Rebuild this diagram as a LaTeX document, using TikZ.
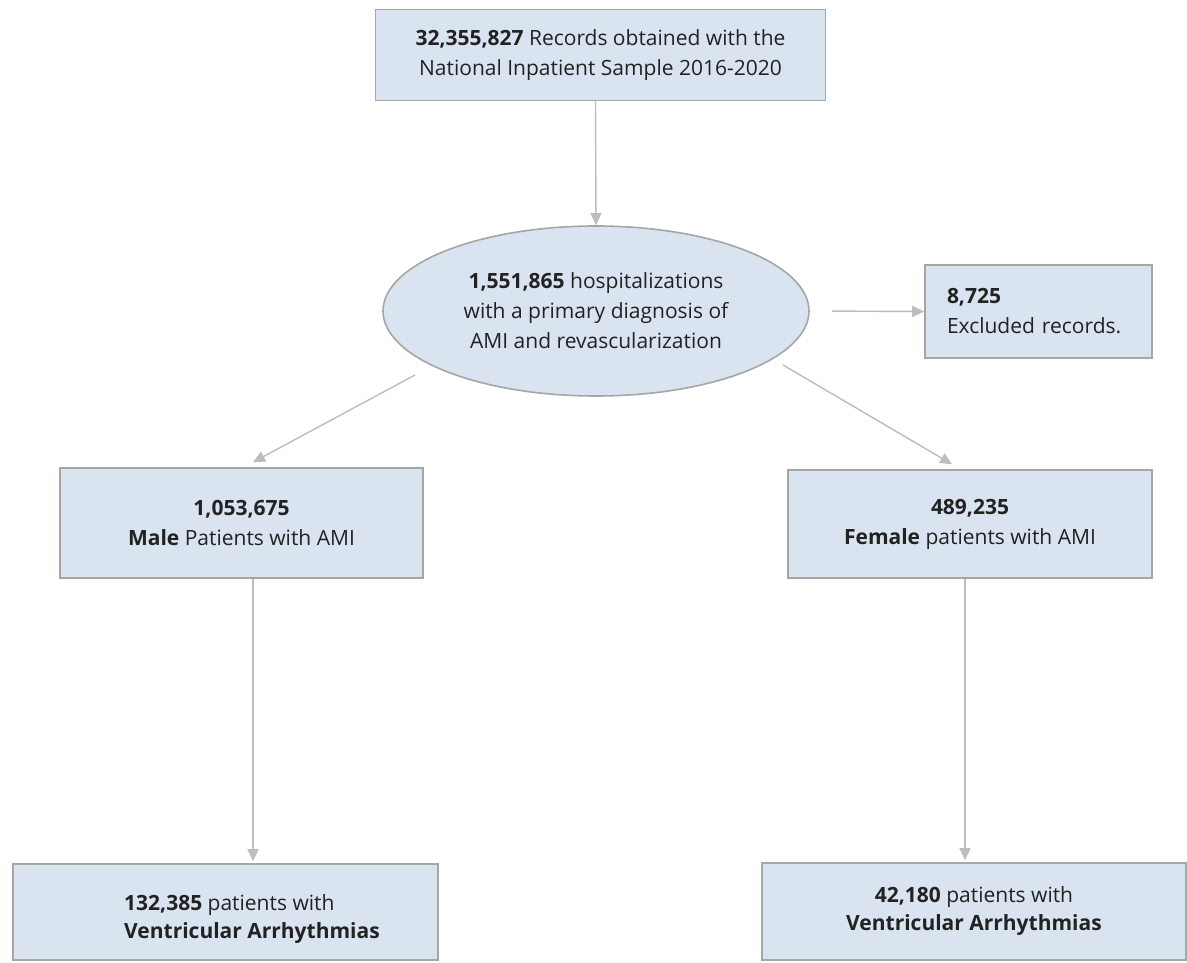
\documentclass[tikz,border=0pt]{standalone}
\usepackage{fontspec}
\setmainfont{Open Sans}
\usetikzlibrary{arrows.meta,shapes.geometric,calc}
\definecolor{boxfill}{HTML}{DAE3F0}
\definecolor{boxline}{HTML}{A6A6A6}
\definecolor{arrline}{HTML}{BDBDBD}
\definecolor{txt}{HTML}{222222}
\begin{document}
\begin{tikzpicture}[x=1pt,y=-1pt,
  font=\fontsize{21}{30}\selectfont,
  box/.style={draw=boxline, line width=1.6pt, fill=boxfill, text=txt, inner sep=0pt, align=center},
  arr/.style={draw=arrline, line width=1.4pt, -{Triangle[length=12pt,width=11pt]}}]
\useasboundingbox (0,0) rectangle (1187,963);
\fill[white] (0,0) rectangle (1187,963);

\node[box, minimum width=450pt, minimum height=91pt] (top) at (600.5,55)
  {\textbf{32,355,827} Records obtained with the\\National Inpatient Sample 2016-2020};
\node[box, ellipse, minimum width=426pt, minimum height=170pt] (ell) at (596,311)
  {\textbf{1,551,865} hospitalizations\\with a primary diagnosis of\\AMI and revascularization};
\node[box, align=left, text width=183pt, inner xsep=22pt, minimum height=93pt] (excl) at (1038.5,311.5)
  {\textbf{8,725}\\Excluded records.};
\node[box, minimum width=363pt, minimum height=110pt] (male) at (241.5,523)
  {\textbf{1,053,675}\\\textbf{Male} Patients with AMI};
\node[box, minimum width=364pt, minimum height=108pt] (female) at (970,524)
  {\textbf{489,235}\\\textbf{Female} patients with AMI};
\node[box, minimum width=425pt, minimum height=96pt] (bl) at (225.5,912) {};
\node[text=txt, align=left, inner sep=0pt, font=\fontsize{21}{28}\selectfont] (bltext) at (252,919)
  {\textbf{132,385} patients with\\\textbf{Ventricular Arrhythmias}};
\node[box, minimum width=424pt, minimum height=97pt, font=\fontsize{21}{28}\selectfont] (br) at (974,911.5)
  {\textbf{42,180} patients with\\\textbf{Ventricular Arrhythmias}};

\draw[arr] ($(top.south)+(-5,0)$) -- (ell.north);
\draw[arr, shorten <=22pt] (ell.east) -- (excl.west);
\draw[arr] ($(ell.center)+(-181,64)$) -- ($(male.north)+(11.5,-5)$);
\draw[arr] ($(ell.center)+(187,54)$) -- ($(female.north)+(-18,-5)$);
\draw[arr] ($(male.south)+(11.5,0)$) -- ($(bl.north)+(27.5,-2)$);
\draw[arr] ($(female.south)+(-5,0)$) -- ($(br.north)+(-9,-2)$);
\end{tikzpicture}
\end{document}
